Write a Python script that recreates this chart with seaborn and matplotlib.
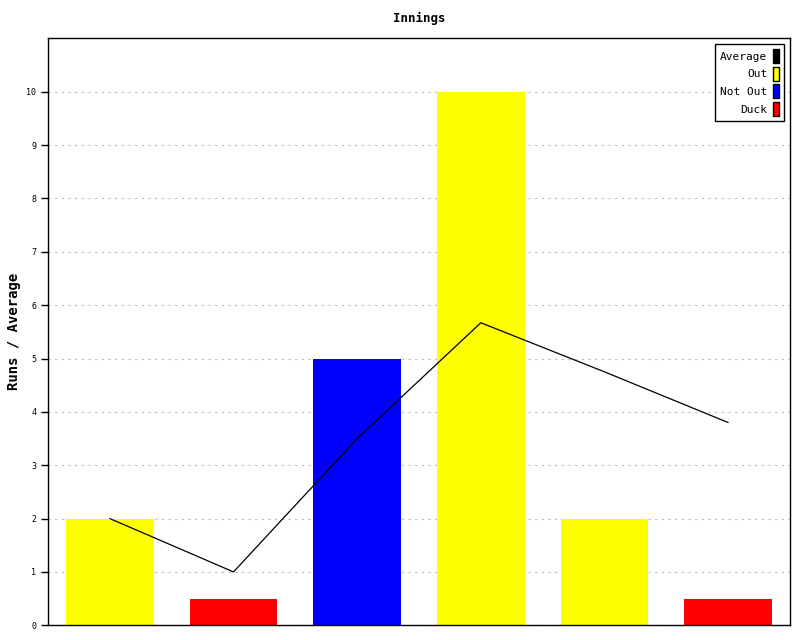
import pandas as pd
import seaborn as sns
import matplotlib.pyplot as plt
from matplotlib.patches import Patch

innings = ["1", "2", "3", "4", "5", "6"]
runs = [2, 0.5, 5, 10, 2, 0.5]
result = ["Out", "Duck", "Not Out", "Out", "Out", "Duck"]
average = [2, 1, 3.5, 5.67, 4.75, 3.8]

colors = {"Average": "black", "Out": "#ffff00", "Not Out": "#0000ff", "Duck": "#ff0000"}

df = pd.DataFrame({"innings": innings, "runs": runs, "result": result, "average": average})

sns.set_style("white")
plt.rcParams["font.family"] = ["DejaVu Sans Mono"]
plt.rcParams["text.color"] = "black"
plt.rcParams["axes.labelcolor"] = "black"
plt.rcParams["ytick.color"] = "black"

fig, ax = plt.subplots(figsize=(8, 6.4), dpi=100)
fig.subplots_adjust(left=0.06, right=0.9875, top=0.94, bottom=0.023)

sns.barplot(data=df, x="innings", y="runs", hue="result", palette=colors,
            dodge=False, width=0.71, saturation=1, linewidth=0,
            ax=ax, legend=False, zorder=2)
sns.lineplot(x=range(len(innings)), y=average, color="black", linewidth=0.9, ax=ax, zorder=3)

ax.set_xlim(-0.5, len(innings) - 0.5)
ax.set_ylim(0, 11)
ax.set_yticks(range(0, 11))
ax.tick_params(axis="y", labelsize=6, length=5, width=1, direction="out", left=True)
ax.set_xticks([])
ax.set_xlabel("")
ax.set_ylabel("Runs / Average", fontsize=10, fontweight="bold")
ax.set_title("Innings", fontsize=9, fontweight="bold", pad=12)
ax.yaxis.grid(True, linestyle=(0, (2, 4)), color="#bbbbbb", linewidth=0.8, zorder=0)
ax.set_axisbelow(True)
for s in ax.spines.values():
    s.set_color("black")
    s.set_linewidth(1)

handles = [Patch(facecolor=colors[k], edgecolor="black", label=k)
           for k in ["Average", "Out", "Not Out", "Duck"]]
ax.legend(handles=handles, loc="upper right", markerfirst=False, fontsize=8,
          handlelength=0.6, handleheight=1.6, handletextpad=0.5, labelspacing=0.3,
          frameon=True, fancybox=False, edgecolor="black", framealpha=1,
          borderpad=0.45, alignment="right")
leg = ax.get_legend()
leg.get_frame().set_linewidth(1)
for t in leg.get_texts():
    t.set_ha("right")

fig.savefig("out.png", dpi=100)
